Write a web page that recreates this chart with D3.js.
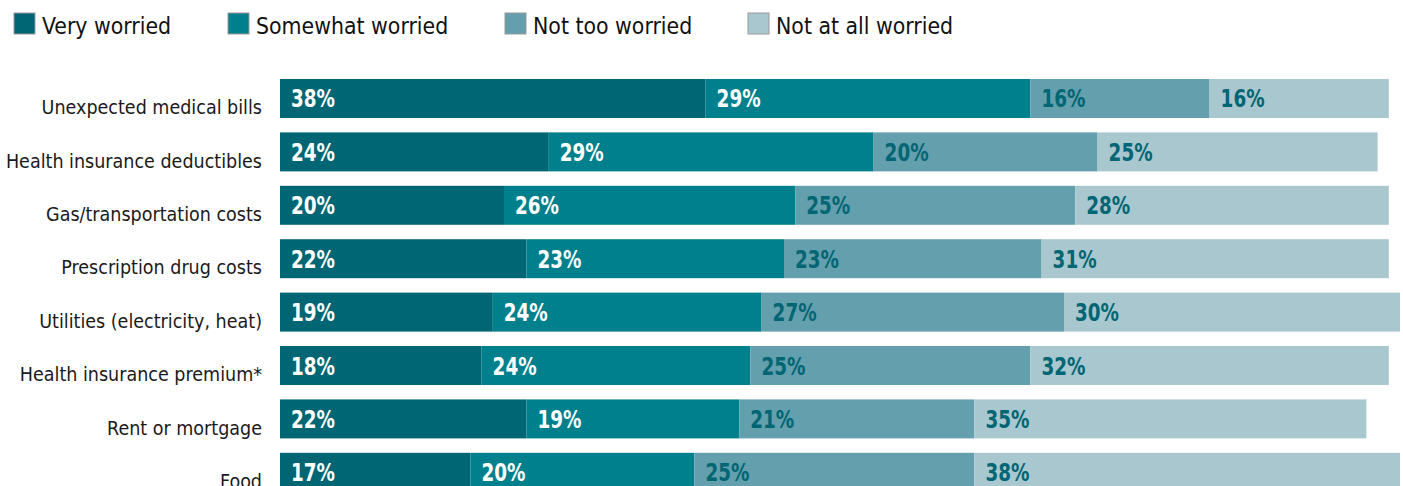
<!DOCTYPE html>
<html>
<head>
<meta charset="utf-8">
<script src="https://cdn.jsdelivr.net/npm/d3@7"></script>
<style>
  body { margin: 0; background: #fff; }
  svg text { font-family: "DejaVu Sans Condensed", "Liberation Sans Narrow", sans-serif; }
</style>
</head>
<body>
<svg id="chart" width="1403" height="486"></svg>
<script>
const categories = [
  "Unexpected medical bills",
  "Health insurance deductibles",
  "Gas/transportation costs",
  "Prescription drug costs",
  "Utilities (electricity, heat)",
  "Health insurance premium*",
  "Rent or mortgage",
  "Food"
];
const seriesNames = ["Very worried", "Somewhat worried", "Not too worried", "Not at all worried"];
const veryWorried = [38, 24, 20, 22, 19, 18, 22, 17];
const somewhatWorried = [29, 29, 26, 23, 24, 24, 19, 20];
const notTooWorried = [16, 20, 25, 23, 27, 25, 21, 25];
const notAtAllWorried = [16, 25, 28, 31, 30, 32, 35, 38];

const colors = ["#006673", "#007f8c", "#639fac", "#a8c7cf"];
const labelColors = ["#ffffff", "#ffffff", "#006673", "#006673"];

const svg = d3.select("#chart");

// rows of stacked data
const rows = categories.map((c, i) => ({
  category: c,
  [seriesNames[0]]: veryWorried[i],
  [seriesNames[1]]: somewhatWorried[i],
  [seriesNames[2]]: notTooWorried[i],
  [seriesNames[3]]: notAtAllWorried[i]
}));
const stacked = d3.stack().keys(seriesNames)(rows);

const x = d3.scaleLinear().domain([0, 100]).range([280, 1400]);
const y = d3.scaleBand()
  .domain(categories)
  .range([79, 491.8])
  .paddingInner(0.27)
  .paddingOuter(0);

// category axis (no line, no ticks)
const yAxis = svg.append("g")
  .attr("transform", "translate(262,0)")
  .call(d3.axisLeft(y).tickSize(0).tickPadding(0));
yAxis.select(".domain").remove();
yAxis.selectAll("text")
  .attr("font-size", 19.5)
  .attr("fill", "#1a1a1a")
  .attr("dy", "0.8em")
  .style("font-family", null);

const layers = svg.append("g").selectAll("g")
  .data(stacked)
  .join("g")
  .attr("fill", (d, i) => colors[i]);

layers.selectAll("rect")
  .data(d => d)
  .join("rect")
  .attr("x", d => x(d[0]))
  .attr("y", d => y(d.data.category))
  .attr("width", d => x(d[1]) - x(d[0]))
  .attr("height", y.bandwidth());

// value labels, squeezed to look like a condensed bold face
svg.append("g").selectAll("g")
  .data(stacked)
  .join("g")
  .attr("fill", (d, i) => labelColors[i])
  .selectAll("text")
  .data(d => d)
  .join("text")
  .attr("x", d => x(d[0]) + 11)
  .attr("y", d => y(d.data.category) + y.bandwidth() / 2)
  .attr("dy", "0.36em")
  .attr("font-size", 25)
  .attr("font-weight", "bold")
  .attr("textLength", 44)
  .attr("lengthAdjust", "spacingAndGlyphs")
  .text(d => (d[1] - d[0]) + "%");

// legend
const legendX = [14, 228, 505, 748];
const legend = svg.append("g").selectAll("g")
  .data(seriesNames)
  .join("g")
  .attr("transform", (d, i) => `translate(${legendX[i]},13)`);
legend.append("rect")
  .attr("width", 21)
  .attr("height", 21)
  .attr("fill", (d, i) => colors[i])
  .attr("stroke", "#9a9a9a")
  .attr("stroke-width", 1);
legend.append("text")
  .attr("x", 28)
  .attr("y", 21)
  .attr("font-size", 22.8)
  .attr("fill", "#111")
  .text(d => d);
</script>
</body>
</html>
